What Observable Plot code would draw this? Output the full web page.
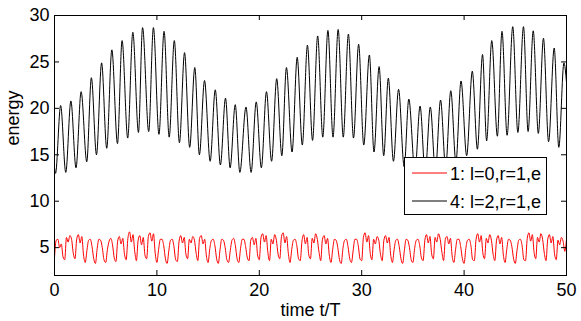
<!DOCTYPE html>
<html><head><meta charset="utf-8">
<script src="https://cdn.jsdelivr.net/npm/d3@7"></script>
<script src="https://cdn.jsdelivr.net/npm/@observablehq/plot@0.6"></script>
<style>
body{margin:0;background:#fff;}
#wrap{position:relative;width:581px;height:321px;}
#legend{position:absolute;left:404px;top:157px;}
</style></head><body><div id="wrap"></div>
<script>
// x ticks / y ticks
const xTicks = [0, 10, 20, 30, 40, 50];
const yTicks = [5, 10, 15, 20, 25, 30];

// series 4 (black): times and energies at the extrema
const blackT = [0, 0.1, 0.6, 1.1, 1.6, 2.1, 2.6, 3.15, 3.6, 4.1, 4.6, 5.1, 5.6, 6.15, 6.6, 7.15, 7.65, 8.2, 8.6, 9.2, 9.66,
  10.2, 10.7, 11.2, 11.7, 12.2, 12.7, 13.2, 13.7, 14.15, 14.65, 15.2, 15.7, 16.2, 16.7, 17.15, 17.65, 18.1, 18.7, 19.2, 19.7,
  20.2, 20.7, 21.2, 21.7, 22.2, 22.65, 23.2, 23.7, 24.2, 24.7, 25.2, 25.7, 26.2, 26.7, 27.2, 27.7, 28.2, 28.7, 29.2, 29.7,
  30.2, 30.75, 31.2, 31.7, 32.15, 32.6, 33.1, 33.6, 34.15, 34.6, 35.2, 35.7, 36.2, 36.7, 37.2, 37.7, 38.2, 38.7, 39.2, 39.7,
  40.25, 40.8, 41.3, 41.8, 42.2, 42.7, 43.25, 43.7, 44.2, 44.75, 45.25, 45.8, 46.25, 46.75, 47.25, 47.75, 48.25, 48.8, 49.25, 49.75, 50];
const blackE = [13.6, 13.0, 20.3, 13.1, 20.8, 13.6, 21.8, 14.25, 23.3, 15.0, 24.9, 15.7, 26.3, 16.2, 27.3, 16.8, 28.2, 17.4, 28.7, 17.5, 28.7,
  17.2, 28.3, 16.9, 27.3, 16.3, 26.0, 15.8, 24.4, 15.0, 23.0, 14.3, 22.0, 13.9, 21.1, 13.6, 20.4, 13.1, 20.15, 13.1, 20.7,
  13.6, 21.8, 14.3, 23.2, 14.9, 24.4, 15.3, 25.5, 16.05, 26.8, 16.55, 27.8, 16.9, 28.4, 16.9, 28.5, 16.9, 28.0, 16.8, 26.9,
  16.05, 25.75, 15.3, 24.5, 14.9, 23.25, 14.3, 22.05, 13.7, 21.0, 13.2, 20.25, 13.0, 20.15, 13.2, 20.9, 13.6, 21.9, 14.2, 22.95,
  14.9, 24.0, 15.6, 25.8, 16.5, 27.3, 17.0, 28.3, 17.1, 28.8, 17.4, 28.8, 17.5, 28.35, 17.3, 27.55, 16.4, 26.5, 15.8, 24.9, 22.8];

// series 1 (red): energy sampled every 1/6 of t/T
const redStep = 1 / 6;
const redE = [
  3.9, 5.8, 5.9, 5.0, 5.4, 4.0,
  3.7, 6.1, 5.6, 6.3, 5.9, 4.4,
  3.8, 5.9, 6.4, 5.5, 6.2, 4.2,
  3.4, 4.7, 5.8, 5.9, 5.1, 3.8,
  3.3, 4.9, 5.9, 5.8, 5.0, 3.7,
  3.4, 4.8, 5.7, 6.0, 5.3, 3.9,
  3.5, 5.7, 6.2, 5.4, 6.0, 4.3,
  3.7, 6.0, 6.7, 5.6, 6.4, 4.6,
  3.6, 5.8, 6.3, 5.3, 6.1, 4.2,
  3.8, 6.2, 6.6, 5.7, 6.5, 4.4,
  3.4, 4.8, 5.9, 5.9, 5.2, 3.8,
  3.3, 4.7, 5.8, 5.9, 5.1, 3.7,
  3.5, 5.7, 6.3, 5.5, 6.1, 4.3,
  3.8, 5.9, 5.5, 6.2, 5.8, 4.4,
  3.6, 6.0, 6.3, 5.4, 5.9, 4.1,
  3.4, 4.9, 5.8, 5.9, 5.2, 3.8,
  3.3, 4.8, 5.9, 5.8, 5.0, 3.7,
  3.4, 4.7, 5.8, 6.0, 5.2, 3.8,
  3.4, 4.9, 5.9, 5.9, 5.1, 3.9,
  3.6, 5.8, 6.1, 5.3, 6.0, 4.2,
  3.7, 6.1, 6.5, 5.6, 6.3, 4.5,
  3.6, 5.9, 5.4, 6.4, 5.8, 4.3,
  3.8, 6.2, 6.6, 5.5, 6.2, 4.4,
  3.4, 4.8, 5.8, 5.9, 5.2, 3.8,
  3.6, 5.7, 6.4, 5.4, 6.1, 4.2,
  3.8, 6.0, 5.5, 6.5, 5.9, 4.5,
  3.6, 5.9, 6.3, 5.4, 6.0, 4.2,
  3.4, 4.8, 5.9, 5.8, 5.0, 3.7,
  3.3, 4.9, 5.8, 5.9, 5.1, 3.8,
  3.4, 4.7, 5.9, 5.9, 5.2, 3.8,
  3.6, 6.1, 6.6, 5.6, 6.3, 4.4,
  3.7, 5.9, 5.4, 6.2, 5.8, 4.3,
  3.6, 5.8, 6.3, 5.5, 6.1, 4.2,
  3.4, 4.8, 5.8, 5.9, 5.1, 3.8,
  3.3, 4.7, 5.9, 5.8, 5.0, 3.7,
  3.4, 4.9, 5.8, 5.9, 5.2, 3.9,
  3.6, 5.8, 6.4, 5.5, 6.2, 4.3,
  3.8, 6.1, 5.6, 6.5, 5.9, 4.5,
  3.6, 5.9, 6.2, 5.4, 6.0, 4.1,
  3.4, 4.8, 5.9, 5.9, 5.1, 3.8,
  3.3, 4.9, 5.8, 5.9, 5.2, 3.7,
  3.6, 5.9, 6.5, 5.6, 6.3, 4.4,
  3.8, 6.0, 5.5, 6.4, 5.8, 4.3,
  3.6, 5.8, 6.3, 5.4, 6.1, 4.2,
  3.4, 4.8, 5.9, 5.8, 5.1, 3.8,
  3.3, 4.7, 5.8, 5.9, 5.2, 3.7,
  3.6, 6.0, 6.6, 5.7, 6.4, 4.5,
  3.8, 6.1, 5.6, 6.5, 5.9, 4.4,
  3.6, 5.9, 6.4, 5.5, 6.2, 4.3,
  3.7, 5.8, 5.3, 6.1, 5.7, 4.6,
  5.9];

const legendLabels = ["1: l=0,r=1,e", "4: l=2,r=1,e"];
const seriesColors = ["#ff0000", "#000000"];
const xLabel = "time t/T";
const yLabel = "energy";

const W = 581, H = 321, mL = 54, mR = 15, mT = 15, mB = 46;
const innerW = W - mL - mR, innerH = H - mT - mB, tick = 5;
const font = '"Liberation Sans", Arial, Helvetica, sans-serif';

const black = blackT.map((t, i) => ({t, e: blackE[i]}));
const red = redE.map((e, i) => ({t: i * redStep, e}));

const chart = Plot.plot({
  width: W, height: H,
  marginLeft: mL, marginRight: mR, marginTop: mT, marginBottom: mB,
  style: {fontFamily: font, fontSize: "18px", color: "#000", background: "#fff"},
  x: {domain: [0, 50]},
  y: {domain: [2, 30]},
  marks: [
    Plot.line(red, {x: "t", y: "e", stroke: seriesColors[0], strokeWidth: 1, curve: "monotone-x"}),
    Plot.line(black, {x: "t", y: "e", stroke: seriesColors[1], strokeWidth: 1, curve: "monotone-x"}),
    Plot.axisX({ticks: xTicks, tickSize: 0, tickPadding: 8, label: null, fontSize: 18}),
    Plot.axisY({ticks: yTicks, tickSize: 0, tickPadding: 5, label: null, fontSize: 18}),
    Plot.ruleX(xTicks, {x: d => d, insetTop: innerH - tick, stroke: "#000"}),
    Plot.ruleX(xTicks, {x: d => d, insetBottom: innerH - tick, stroke: "#000"}),
    Plot.ruleY(yTicks, {y: d => d, insetRight: innerW - tick, stroke: "#000"}),
    Plot.ruleY(yTicks, {y: d => d, insetLeft: innerW - tick, stroke: "#000"}),
    Plot.text([xLabel], {text: d => d, frameAnchor: "bottom", dy: 35, lineAnchor: "middle", fontSize: 18, fill: "#000"}),
    Plot.text([yLabel], {text: d => d, frameAnchor: "left", dx: -41, rotate: -90, lineAnchor: "middle", fontSize: 18, fill: "#000"}),
    Plot.frame({stroke: "#000", strokeWidth: 1})
  ]
});
const wrap = document.getElementById("wrap");
wrap.appendChild(chart);

// legend (HTML overlay inside the axes)
const ns = "http://www.w3.org/2000/svg";
const lg = document.createElementNS(ns, "svg");
lg.setAttribute("id", "legend");
lg.setAttribute("width", 144); lg.setAttribute("height", 59);
const box = document.createElementNS(ns, "rect");
box.setAttribute("x", 0.5); box.setAttribute("y", 0.5); box.setAttribute("width", 142); box.setAttribute("height", 57);
box.setAttribute("fill", "#fff"); box.setAttribute("stroke", "#000");
lg.appendChild(box);
legendLabels.forEach((lab, i) => {
  const ly = 16 + i * 28;
  const ln = document.createElementNS(ns, "line");
  ln.setAttribute("x1", 8); ln.setAttribute("x2", 43); ln.setAttribute("y1", ly); ln.setAttribute("y2", ly);
  ln.setAttribute("stroke", seriesColors[i]); ln.setAttribute("stroke-width", 1);
  lg.appendChild(ln);
  const tx = document.createElementNS(ns, "text");
  tx.setAttribute("x", 46); tx.setAttribute("y", ly + 7);
  tx.setAttribute("font-family", font); tx.setAttribute("font-size", 18); tx.setAttribute("fill", "#000");
  tx.textContent = lab;
  lg.appendChild(tx);
});
wrap.appendChild(lg);
</script></body></html>
